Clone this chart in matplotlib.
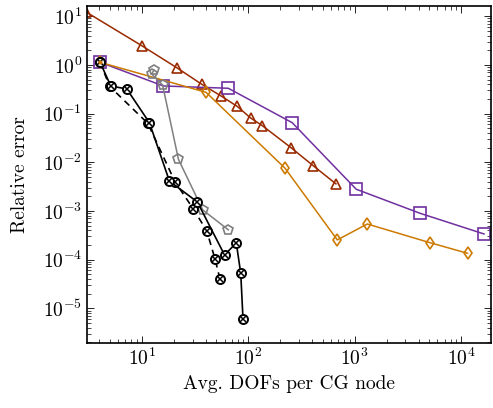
import numpy as np
import matplotlib
matplotlib.use("Agg")
import matplotlib.pyplot as plt

plt.rcParams['font.family'] = 'serif'
plt.rcParams['font.serif'] = ['cmr10']
plt.rcParams['mathtext.fontset'] = 'cm'
plt.rcParams['axes.formatter.use_mathtext'] = True

# data (log-log)
tri_x = [3.0, 10.0, 21.3, 36.6, 55.6, 79.0, 105.5, 135.6, 252, 408, 667]
tri_y = [12.2, 2.48, 0.877, 0.40, 0.23, 0.14, 0.081, 0.0565, 0.020, 0.0085, 0.0036]

sq_x = [4.06, 15.96, 65, 259, 1035, 4100, 16400]
sq_y = [1.13, 0.369, 0.331, 0.065, 0.00279, 0.000898, 0.000337]

dia_x = [4.06, 40.2, 222, 687, 1313, 5094, 11500]
dia_y = [1.13, 0.273, 0.00753, 0.000254, 0.00054, 0.000223, 0.000135]

pent_x = [13.0, 12.4, 15.7, 22.1, 37.4, 65]
pent_y = [0.785, 0.65, 0.386, 0.0115, 0.00105, 0.00041]

solid_x = [4.06, 5.12, 7.23, 11.8, 18.2, 33.3, 59.9, 77.3, 85.1, 89.4]
solid_y = [1.13, 0.369, 0.32, 0.065, 0.0041, 0.00153, 0.000125, 0.00022, 5.2e-5, 5.9e-6]

dash_x = [4.06, 5.0, 11.4, 20.5, 30.5, 40.8, 48.8, 54.3]
dash_y = [1.13, 0.36, 0.063, 0.0040, 0.0011, 0.00039, 0.000103, 4.0e-5]

c_tri = '#9a2a00'
c_sq = '#7030a0'
c_dia = '#cc7a00'
c_pent = '#7f7f7f'

fig = plt.figure(figsize=(4.93, 4.08), dpi=100)
ax = fig.add_axes([0.1765, 0.1593, 0.8185, 0.826])

ax.plot(tri_x, tri_y, color=c_tri, lw=1.1, marker='^', ms=7, mfc='none', mew=1.2)
ax.plot(sq_x, sq_y, color=c_sq, lw=1.1, marker='s', ms=8, mfc='none', mew=1.2)
ax.plot(dia_x, dia_y, color=c_dia, lw=1.1, marker='d', ms=6.5, mfc='none', mew=1.2)
ax.plot(pent_x, pent_y, color=c_pent, lw=1.1, marker='p', ms=7, mfc='none', mew=1.2)

# otimes marks: white circle + cross
ax.plot(dash_x, dash_y, color='black', lw=1.2, ls=(0, (4, 3)),
        marker='o', ms=6.5, mfc='white', mec='black', mew=1.4)
ax.plot(dash_x, dash_y, ls='none', marker='x', ms=4, mec='black', mew=1.1)
ax.plot(solid_x, solid_y, color='black', lw=1.2,
        marker='o', ms=6.5, mfc='white', mec='black', mew=1.4)
ax.plot(solid_x, solid_y, ls='none', marker='x', ms=4, mec='black', mew=1.1)

# first point: orange dot in the middle
ax.plot([dia_x[0]], [dia_y[0]], ls='none', marker='o', ms=2, color=c_dia)

ax.set_xscale('log')
ax.set_yscale('log')
ax.set_xlim(3.06, 18900)
ax.set_ylim(1.94e-6, 16.2)
ax.set_yticks([1e1, 1e0, 1e-1, 1e-2, 1e-3, 1e-4, 1e-5])
ax.set_xticks([1e1, 1e2, 1e3, 1e4])

ax.tick_params(which='both', direction='in', top=True, right=True, labelsize=14)
ax.tick_params(which='major', length=5, width=0.6)
ax.tick_params(which='minor', length=3, width=0.5)
for s in ax.spines.values():
    s.set_linewidth(1.2)

ax.set_xlabel('Avg. DOFs per CG node', fontsize=14)
ax.set_ylabel('Relative error', fontsize=14, labelpad=10)

fig.savefig('out.png', dpi=100)
